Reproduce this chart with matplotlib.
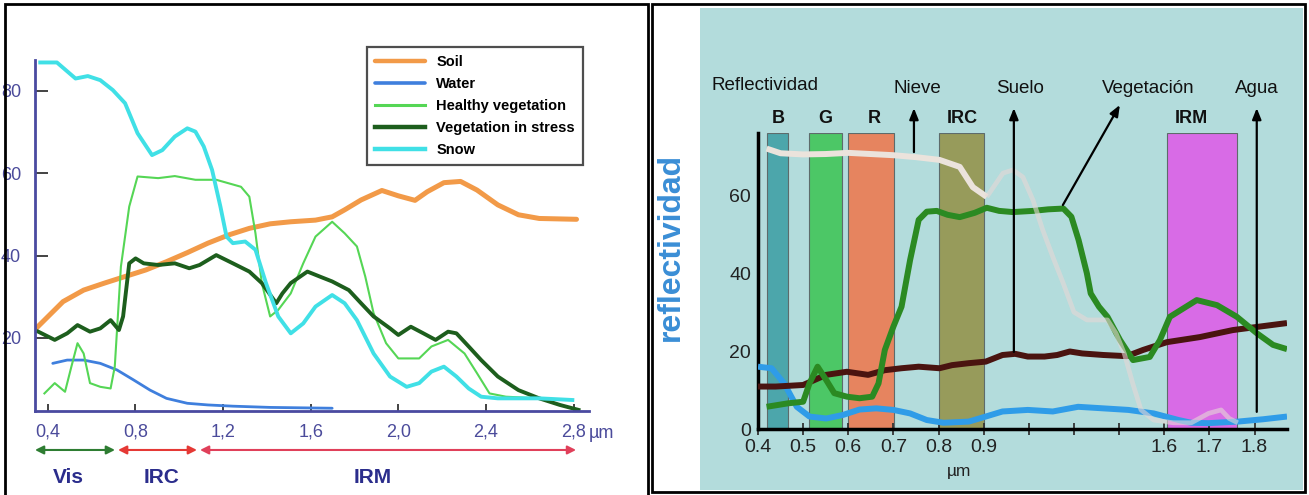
import numpy as np
import matplotlib
matplotlib.use('Agg')
import matplotlib.pyplot as plt
from matplotlib.patches import Rectangle

# ---------------- Left panel data (wavelength in µm, reflectance in %) ----------------
soil_x = [0.347, 0.470, 0.564, 0.659, 0.753, 0.848, 0.942, 1.037, 1.131, 1.226, 1.320, 1.415, 1.509, 1.622,
          1.698, 1.755, 1.830, 1.925, 2.000, 2.076, 2.132, 2.208, 2.284, 2.359, 2.454, 2.548, 2.643, 2.813]
soil_y = [22.3, 28.8, 31.6, 33.3, 34.9, 36.5, 38.5, 40.7, 43.0, 45.0, 46.6, 47.7, 48.2, 48.6,
          49.4, 51.1, 53.5, 55.8, 54.5, 53.4, 55.5, 57.7, 58.0, 55.9, 52.3, 49.9, 49.0, 48.8]

water_x = [0.423, 0.489, 0.564, 0.640, 0.716, 0.791, 0.867, 0.942, 1.037, 1.131, 1.245, 1.415, 1.698]
water_y = [13.8, 14.6, 14.6, 13.8, 12.2, 9.8, 7.3, 5.3, 4.1, 3.7, 3.4, 3.1, 2.9]

healthy_x = [0.385, 0.432, 0.479, 0.508, 0.536, 0.564, 0.593, 0.640, 0.687, 0.706, 0.734, 0.772, 0.810, 0.904,
             0.980, 1.074, 1.169, 1.282, 1.320, 1.348, 1.377, 1.415, 1.452, 1.509, 1.566, 1.622, 1.698, 1.755,
             1.811, 1.849, 1.887, 1.944, 2.000, 2.095, 2.151, 2.227, 2.302, 2.359, 2.416, 2.491, 2.643, 2.813]
healthy_y = [6.5, 9.0, 6.9, 13.0, 18.7, 16.2, 9.0, 8.1, 7.7, 13.0, 37.3, 51.9, 59.2, 58.8,
             59.3, 58.4, 58.4, 56.7, 54.3, 45.4, 33.3, 25.2, 26.8, 30.8, 38.1, 44.6, 48.2, 45.4,
             42.2, 34.9, 26.0, 18.7, 15.0, 15.0, 17.9, 19.5, 16.2, 11.4, 6.5, 5.7, 5.3, 2.5]

stress_x = [0.357, 0.432, 0.489, 0.536, 0.593, 0.640, 0.687, 0.725, 0.744, 0.772, 0.801, 0.838, 0.904, 0.980,
            1.046, 1.093, 1.169, 1.245, 1.320, 1.377, 1.443, 1.471, 1.509, 1.585, 1.641, 1.698, 1.774, 1.830,
            1.887, 1.962, 2.000, 2.057, 2.114, 2.170, 2.227, 2.265, 2.321, 2.378, 2.454, 2.548, 2.643, 2.737, 2.822]
stress_y = [21.5, 19.5, 21.1, 23.1, 21.5, 22.3, 24.3, 21.9, 25.2, 38.1, 39.3, 38.1, 37.7, 38.1,
            36.9, 37.7, 40.1, 38.1, 36.1, 33.3, 28.4, 30.8, 33.3, 36.1, 34.9, 33.7, 31.6, 28.4,
            25.2, 22.3, 20.7, 22.7, 21.1, 19.5, 21.5, 21.1, 17.9, 14.6, 10.6, 7.3, 5.3, 3.7, 2.5]

snow_x = [0.366, 0.442, 0.527, 0.583, 0.640, 0.697, 0.753, 0.810, 0.876, 0.923, 0.980, 1.037, 1.074, 1.112,
          1.150, 1.188, 1.216, 1.245, 1.301, 1.348, 1.396, 1.452, 1.509, 1.566, 1.622, 1.698, 1.755, 1.811,
          1.887, 1.962, 2.038, 2.095, 2.151, 2.208, 2.265, 2.321, 2.378, 2.454, 2.643, 2.794]
snow_y = [86.9, 86.9, 83.0, 83.6, 82.6, 80.2, 77.0, 69.7, 64.4, 65.6, 68.9, 70.9, 70.1, 66.5,
          60.8, 51.9, 44.6, 43.0, 43.4, 41.4, 33.3, 25.2, 21.1, 23.5, 27.6, 30.4, 28.4, 24.3,
          16.2, 10.6, 8.1, 9.0, 11.8, 13.0, 10.6, 7.7, 5.7, 5.3, 5.3, 4.9]

left_ticks = [0.4, 0.8, 1.2, 1.6, 2.0, 2.4, 2.8]
left_ticklabels = ['0,4', '0,8', '1,2', '1,6', '2,0', '2,4', '2,8']
left_yticks = [20, 40, 60, 80]

region_names = ['Vis', 'IRC', 'IRM']
region_start = [0.342, 0.721, 1.095]
region_end = [0.707, 1.081, 2.811]
region_label_x = [0.492, 0.921, 1.885]

# ---------------- Right panel data ----------------
r_snow_x = [0.419, 0.45, 0.50, 0.55, 0.60, 0.65, 0.70, 0.75, 0.802, 0.847, 0.876, 0.912, 0.975, 1.013, 1.052,
            1.091, 1.129, 1.168, 1.208, 1.25, 1.30, 1.38, 1.413, 1.445, 1.478, 1.51, 1.559, 1.62, 1.66,
            1.698, 1.726, 1.744, 1.763]
r_snow_y = [72.0, 70.8, 70.5, 70.6, 70.9, 70.6, 70.3, 69.8, 69.1, 67.3, 62.1, 59.6, 65.7, 66.5, 64.7,
            58.8, 51.1, 44.2, 37.5, 30.0, 28.0, 28.0, 24.6, 19.4, 11.7, 4.9, 2.3, 1.6, 1.6,
            4.0, 4.9, 2.7, 1.6]

r_veg_x = [0.419, 0.467, 0.500, 0.514, 0.532, 0.551, 0.569, 0.597, 0.625, 0.653, 0.667, 0.681, 0.700, 0.718,
           0.737, 0.756, 0.774, 0.796, 0.82, 0.847, 0.88, 0.912, 0.96, 1.013, 1.091, 1.15, 1.209, 1.24,
           1.268, 1.30, 1.315, 1.347, 1.38, 1.429, 1.479, 1.544, 1.583, 1.6125, 1.672, 1.717, 1.761,
           1.805, 1.841, 1.872]
r_veg_y = [5.7, 6.6, 7.0, 11.7, 16.0, 12.6, 9.2, 8.3, 7.9, 8.3, 11.7, 20.3, 26.3, 31.4,
           43.4, 53.7, 55.8, 56.0, 55.0, 54.4, 55.5, 56.8, 56.0, 55.7, 56.0, 56.4, 56.6, 54.5,
           48.5, 40.0, 34.8, 31.4, 28.8, 22.8, 17.7, 18.5, 22.8, 28.8, 33.1, 31.8, 28.8,
           24.6, 21.6, 20.5]

r_soil_x = [0.400, 0.439, 0.500, 0.551, 0.597, 0.644, 0.681, 0.718, 0.756, 0.802, 0.830, 0.867, 0.908, 0.973,
            1.022, 1.071, 1.136, 1.185, 1.234, 1.282, 1.364, 1.455, 1.518, 1.606, 1.679, 1.752, 1.805, 1.872]
r_soil_y = [10.9, 10.9, 11.3, 13.9, 14.7, 13.9, 15.1, 15.6, 16.0, 15.6, 16.4, 16.9, 17.3, 19.0,
            19.3, 18.6, 18.6, 19.0, 19.9, 19.4, 19.0, 18.7, 20.3, 22.3, 23.6, 25.4, 26.2, 27.2]

r_water_x = [0.400, 0.430, 0.458, 0.486, 0.514, 0.551, 0.588, 0.625, 0.662, 0.700, 0.737, 0.774, 0.811, 0.867,
             0.908, 0.973, 1.071, 1.168, 1.266, 1.364, 1.461, 1.559, 1.632, 1.660, 1.698, 1.763, 1.819, 1.872]
r_water_y = [16.0, 15.6, 11.7, 5.7, 3.2, 2.7, 3.6, 5.0, 5.3, 4.9, 4.0, 2.3, 1.6, 1.9,
             3.2, 4.5, 4.9, 4.5, 5.7, 5.3, 4.9, 4.0, 2.3, 1.6, 1.5, 1.9, 2.5, 3.2]

band_names = ['B', 'G', 'R', 'IRC', 'IRM']
band_lo = [0.419, 0.512, 0.600, 0.800, 1.606]
band_hi = [0.467, 0.586, 0.702, 0.903, 1.761]
band_label_x = [0.444, 0.550, 0.657, 0.852, 1.661]
band_colors = ['#4ca6ab', '#4cc766', '#e6845f', '#979b5b', '#d86be6']

right_ticks = [0.4, 0.5, 0.6, 0.7, 0.8, 0.9, 1.075, 1.25, 1.425, 1.6, 1.7, 1.8]
right_ticklabels = ['0.4', '0.5', '0.6', '0.7', '0.8', '0.9', '', '', '', '1.6', '1.7', '1.8']
right_yticks = [0, 20, 40, 60]

top_names = ['Reflectividad', 'Nieve', 'Suelo', 'Vegetación', 'Agua']
top_x = [0.4155, 0.752, 1.040, 1.5385, 1.805]
top_y = [88.3, 87.3, 87.3, 87.3, 87.3]

arrow_x0 = [0.7455, 1.017, 1.207, 1.805]
arrow_y0 = [71.1, 19.8, 57.5, 4.4]
arrow_x1 = [0.7455, 1.017, 1.428, 1.805]
arrow_y1 = [82.4, 82.4, 83.2, 82.4]

# ---------------- Figure ----------------
W, H = 1309, 495
ARIAL = ['Liberation Sans', 'DejaVu Sans']
NARROW = ['Liberation Sans Narrow', 'Liberation Sans', 'DejaVu Sans']
plt.rcParams['font.family'] = ARIAL

fig = plt.figure(figsize=(W / 100, H / 100), dpi=100)
fig.patch.set_facecolor('white')


def rect_px(x0, y0, x1, y1, **kw):
    r = Rectangle((x0 / W, 1 - y1 / H), (x1 - x0) / W, (y1 - y0) / H,
                  transform=fig.transFigure, **kw)
    fig.add_artist(r)
    return r


# teal background and frames
rect_px(700, 8, 1303, 490, facecolor='#b3dcdc', edgecolor='none', zorder=0)
rect_px(5, 4, 648, 500, facecolor='none', edgecolor='black', lw=2, zorder=10)
rect_px(652, 4, 1305, 492, facecolor='none', edgecolor='black', lw=2, zorder=10)

# ============ LEFT PANEL ============
ax1 = fig.add_axes([35 / W, (H - 410.7) / H, 554 / W, (410.7 - 60) / H])
ax1.set_facecolor('none')
ax1.set_xlim(0.342, 2.87)
ax1.set_ylim(2.3, 87.5)
for s in ['top', 'right']:
    ax1.spines[s].set_visible(False)
for s in ['left', 'bottom']:
    ax1.spines[s].set_color('#4a4aa0')
    ax1.spines[s].set_linewidth(2)

l_water, = ax1.plot(water_x, water_y, color='#3f7fdd', lw=2.0, solid_capstyle='round')
l_soil, = ax1.plot(soil_x, soil_y, color='#f29a48', lw=3.6, solid_capstyle='round', solid_joinstyle='round')
l_healthy, = ax1.plot(healthy_x, healthy_y, color='#55d655', lw=1.5, solid_joinstyle='round')
l_stress, = ax1.plot(stress_x, stress_y, color='#1d5e1d', lw=2.8, solid_joinstyle='round')
l_snow, = ax1.plot(snow_x, snow_y, color='#40e0e6', lw=2.8, solid_joinstyle='round')

ax1.set_xticks(left_ticks)
ax1.set_xticklabels(left_ticklabels)
ax1.set_yticks(left_yticks)
ax1.tick_params(axis='x', direction='in', length=5, width=1.2, color='#222222', pad=9,
                labelcolor='#4b4b9b', labelsize=13)
ax1.tick_params(axis='y', direction='in', length=9, width=1.2, color='#222222', pad=10,
                labelcolor='#4b4b9b', labelsize=13)
for lab in ax1.get_xticklabels() + ax1.get_yticklabels():
    lab.set_family(NARROW)

xt = ax1.get_xaxis_transform()
ax1.text(2.925, -0.064, 'µm', transform=xt, ha='center', va='center', color='#4b4b9b',
         fontsize=13, family=NARROW, clip_on=False)

region_colors = ['#2e7d32', '#e53935', '#e0405a']
for name, x0, x1, lx, c in zip(region_names, region_start, region_end, region_label_x, region_colors):
    ax1.annotate('', xy=(x1, -0.112), xytext=(x0, -0.112), xycoords=xt, textcoords=xt,
                 arrowprops=dict(arrowstyle='<|-|>,head_length=0.5,head_width=0.25', color=c,
                                 lw=1.5, mutation_scale=10, shrinkA=0, shrinkB=0),
                 annotation_clip=False)
    ax1.text(lx, -0.19, name, transform=xt, ha='center', va='center', color='#2b2d8c',
             fontsize=15, fontweight='bold', family=NARROW, clip_on=False)

leg = ax1.legend([l_soil, l_water, l_healthy, l_stress, l_snow],
                 ['Soil', 'Water', 'Healthy vegetation', 'Vegetation in stress', 'Snow'],
                 loc='upper left', bbox_to_anchor=(367 / W, 1 - 47 / H), bbox_transform=fig.transFigure,
                 borderaxespad=0, frameon=True, fancybox=False, edgecolor='#222222',
                 prop=dict(family=NARROW, weight='bold', size=10.5), handlelength=3.4,
                 handletextpad=0.8, labelspacing=0.55, borderpad=0.55)
leg.get_frame().set_linewidth(1.6)
for h, lw in zip(leg.legend_handles, [3.2, 2.6, 2.2, 3.2, 3.2]):
    h.set_linewidth(lw)

# ============ RIGHT PANEL ============
def fwd(w):
    return np.interp(w, [-1.0, 0.4, 0.9, 1.6, 3.0], [-14.0, 0.0, 5.0, 9.0, 23.0])


def inv(p):
    return np.interp(p, [-14.0, 0.0, 5.0, 9.0, 23.0], [-1.0, 0.4, 0.9, 1.6, 3.0])


ax2 = fig.add_axes([758 / W, (H - 429) / H, 529 / W, 296 / H])
ax2.set_facecolor('none')
ax2.set_xscale('function', functions=(fwd, inv))
ax2.set_xlim(0.4, 1.872)
ax2.set_ylim(0, 76)
for s in ['top', 'right']:
    ax2.spines[s].set_visible(False)
for s in ['left', 'bottom']:
    ax2.spines[s].set_color('black')
    ax2.spines[s].set_linewidth(2.5)

for lo, hi, c in zip(band_lo, band_hi, band_colors):
    ax2.axvspan(lo, hi, ymin=0, ymax=1, facecolor=c, edgecolor='#5d6b6b', lw=0.8, zorder=1)
for name, x in zip(band_names, band_label_x):
    ax2.text(x, 79.8, name, ha='center', va='center', fontsize=13, fontweight='bold',
             color='#111111', clip_on=False)

ax2.plot(r_water_x, r_water_y, color='#2f9ce8', lw=4.3, zorder=3, solid_capstyle='butt')
ax2.plot(r_soil_x, r_soil_y, color='#4a1410', lw=4.3, zorder=3, solid_capstyle='butt')
ax2.plot(r_veg_x, r_veg_y, color='#2b8a22', lw=4.3, zorder=3, solid_capstyle='butt')

rsx = np.array(r_snow_x)
rsy = np.array(r_snow_y)
solid = rsx <= 0.912
ghost = rsx >= 0.912
ax2.plot(rsx[solid], rsy[solid], color='#ebe3dc', lw=4.3, zorder=4, solid_capstyle='butt')
ax2.plot(rsx[ghost], rsy[ghost], color='#e6d8d6', lw=3.4, alpha=0.6, zorder=4, solid_capstyle='butt')

for x0, y0, x1, y1 in zip(arrow_x0, arrow_y0, arrow_x1, arrow_y1):
    ax2.annotate('', xy=(x1, y1), xytext=(x0, y0),
                 arrowprops=dict(arrowstyle='-|>,head_length=0.55,head_width=0.22', color='black',
                                 lw=1.6, mutation_scale=12, shrinkA=0, shrinkB=0),
                 annotation_clip=False, zorder=5)

for name, x, y in zip(top_names, top_x, top_y):
    ax2.text(x, y, name, ha='center', va='center', fontsize=13.5, color='#111111', clip_on=False)

ax2.set_xticks(right_ticks)
ax2.set_xticklabels(right_ticklabels)
ax2.xaxis.set_minor_locator(matplotlib.ticker.NullLocator())
ax2.set_yticks(right_yticks)
ax2.tick_params(axis='x', direction='inout', length=8, width=1.3, color='#333333', pad=3,
                labelsize=14, labelcolor='#222222')
ax2.tick_params(axis='y', length=0, pad=5, labelsize=14, labelcolor='#222222')

xt2 = ax2.get_xaxis_transform()
ax2.text(0.845, -0.145, 'µm', transform=xt2, ha='center', va='center', fontsize=12.5,
         color='#222222', clip_on=False)

fig.text(671 / W, 1 - 247 / H, 'reflectividad', rotation=90, ha='center', va='center',
         fontsize=23, fontweight='bold', color='#3a8ed6')

fig.savefig('out.png', dpi=100, facecolor='white')
